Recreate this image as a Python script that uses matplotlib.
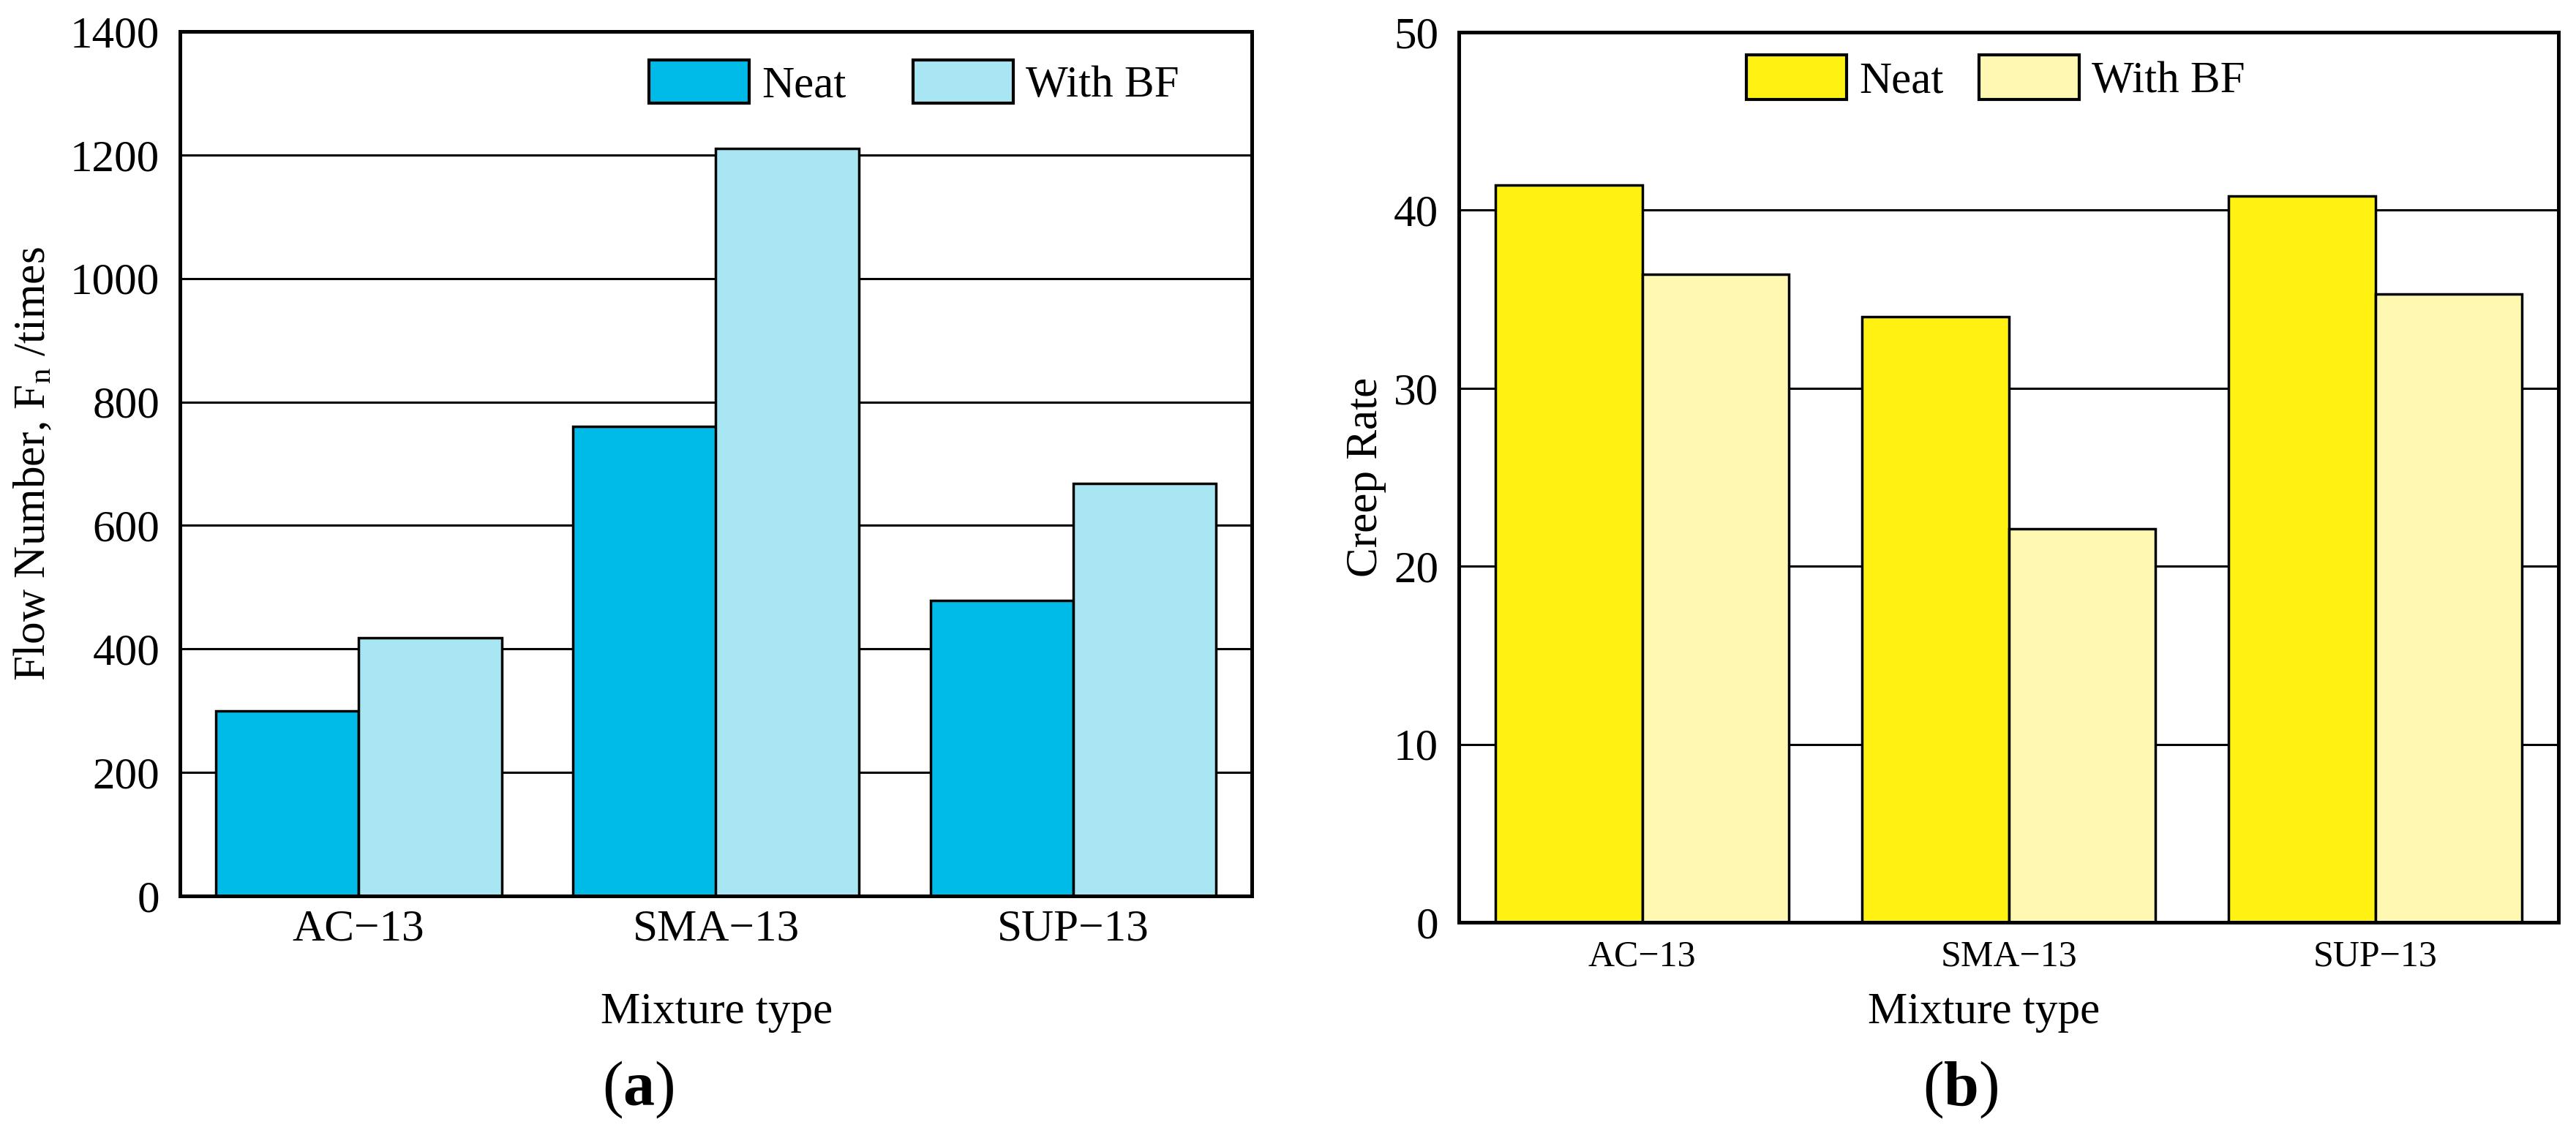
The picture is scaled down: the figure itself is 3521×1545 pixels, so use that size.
import matplotlib
matplotlib.use("Agg")
import matplotlib.pyplot as plt
import numpy as np

categories = ["AC\u221213", "SMA\u221213", "SUP\u221213"]
series_names = ["Neat", "With BF"]
flow_neat = [300, 760, 478]
flow_bf = [418, 1210, 668]
creep_neat = [41.4, 34.0, 40.8]
creep_bf = [36.4, 22.1, 35.3]
flow_ticks = [0, 200, 400, 600, 800, 1000, 1200, 1400]
creep_ticks = [0, 10, 20, 30, 40, 50]

plt.rcParams['font.family'] = ['Liberation Serif', 'DejaVu Serif']
plt.rcParams['mathtext.fontset'] = 'custom'
plt.rcParams['mathtext.rm'] = 'Liberation Serif'
plt.rcParams['mathtext.it'] = 'Liberation Serif:italic'
plt.rcParams['mathtext.bf'] = 'Liberation Serif:bold'

W, H = 3521, 1545
fig = plt.figure(figsize=(W / 100, H / 100), dpi=100)

def fx(px):
    return px / W

def fy(py):
    return 1 - py / H

def axes_rect(x0, x1, y0, y1):
    return [fx(x0), fy(y1), (x1 - x0) / W, (y1 - y0) / H]

ax1 = fig.add_axes(axes_rect(246, 1711, 43, 1225))
ax2 = fig.add_axes(axes_rect(1994, 3497, 44, 1261))

x = np.arange(len(categories))
bw = 0.4

def draw(ax, neat, bf, c1, c2, ticks, ylabel, xtick_size, xtick_pad, legend_anchor, colsp, hh):
    ax.set_axisbelow(True)
    ax.yaxis.grid(True, color='black', linewidth=2.2)
    ax.bar(x - bw / 2, neat, bw, color=c1, edgecolor='black', linewidth=2.5, label=series_names[0], zorder=3)
    ax.bar(x + bw / 2, bf, bw, color=c2, edgecolor='black', linewidth=2.5, label=series_names[1], zorder=3)
    ax.set_xlim(-0.5, len(categories) - 0.5)
    ax.set_ylim(ticks[0], ticks[-1])
    ax.set_yticks(ticks)
    ax.set_xticks(x)
    ax.set_xticklabels(categories)
    ax.tick_params(axis='y', length=0, pad=20, labelsize=44)
    ax.tick_params(axis='x', length=0, pad=xtick_pad, labelsize=xtick_size)
    for s in ax.spines.values():
        s.set_linewidth(3.6)
        s.set_zorder(5)
    ax.set_ylabel(ylabel, fontsize=44)
    leg = ax.legend(loc='upper left', bbox_to_anchor=(fx(legend_anchor[0]), fy(legend_anchor[1])),
                    bbox_transform=fig.transFigure, ncol=2, frameon=False, fontsize=44,
                    borderpad=0, borderaxespad=0, handlelength=2.24, handleheight=hh,
                    handletextpad=0.28, columnspacing=colsp)
    for p in leg.get_patches():
        p.set_linewidth(3.0)
    return ax

draw(ax1, flow_neat, flow_bf, '#00BBE7', '#A7E6F2', flow_ticks,
     r'Flow Number, F$_{\mathrm{n}}$ /times', 44, 13, (887, 82), 1.5, 1.10)
draw(ax2, creep_neat, creep_bf, '#FFF212', '#FFF8B2', creep_ticks,
     'Creep Rate', 36, 17, (2387, 75), 0.8, 1.15)

# y-label positions (baseline of rotated text)
for ax, bx in ((ax1, 61), (ax2, 1882)):
    pos = ax.get_position()
    ax_x = (fx(bx) - pos.x0) / pos.width
    ax.yaxis.set_label_coords(ax_x, 0.5)
    ax.yaxis.label.set_va('baseline')

# x-labels
for ax, cx, base in ((ax1, 980, 1399), (ax2, 2712, 1399)):
    ax.set_xlabel('Mixture type', fontsize=44)
    pos = ax.get_position()
    ax.xaxis.set_label_coords((fx(cx) - pos.x0) / pos.width, (fy(base) - pos.y0) / pos.height)
    ax.xaxis.label.set_va('baseline')

fig.text(fx(872), fy(1511), r'($\mathbf{a}$)', fontsize=62, ha='center', va='baseline')
fig.text(fx(2680), fy(1511), r'($\mathbf{b}$)', fontsize=62, ha='center', va='baseline')

fig.savefig('out.png', dpi=100)
